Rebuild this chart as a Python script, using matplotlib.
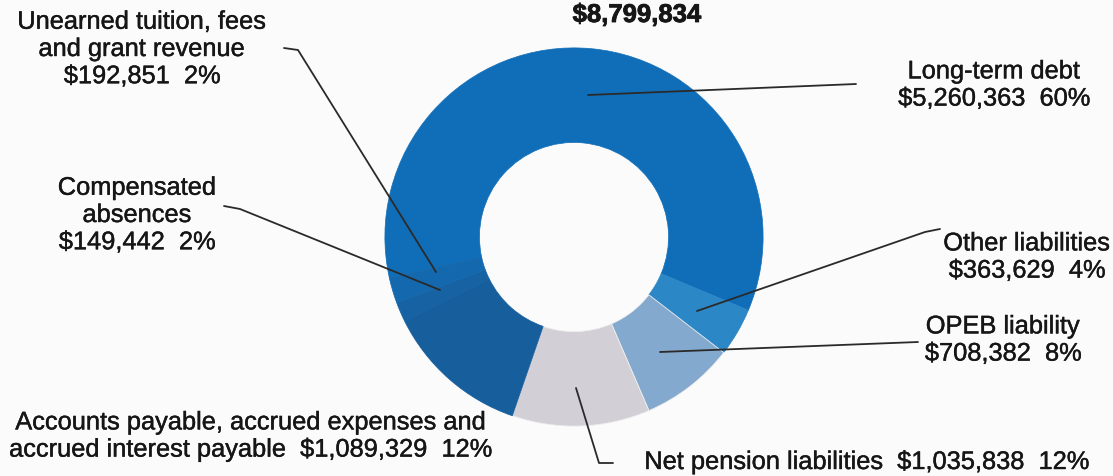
import matplotlib.pyplot as plt
import matplotlib.patheffects as pe

plt.rcParams["font.family"] = ["Liberation Sans", "DejaVu Sans"]

# Slices in drawing order (clockwise, starting with long-term debt)
categories = [
    "Long-term debt",
    "Other liabilities",
    "OPEB liability",
    "Net pension liabilities",
    "Accounts payable, accrued expenses and accrued interest payable",
    "Compensated absences",
    "Unearned tuition, fees and grant revenue",
]
amounts = [5260363, 363629, 708382, 1035838, 1089329, 149442, 192851]
percents = [60, 4, 8, 12, 12, 2, 2]
total = 8799834

colors = ["#106EB9", "#2B87C6", "#84A9CE", "#D3CFD7", "#175E9C", "#1662A3", "#1468AD"]

W, H = 1113, 476
fig = plt.figure(figsize=(W / 100, H / 100), dpi=100, facecolor="#FBFBFB")

# donut axes: centre (574, 237) px, outer radius 191 px
cx, cy, r = 574, 237, 191
ax = fig.add_axes([(cx - r) / W, (H - cy - r) / H, 2 * r / W, 2 * r / H])
wedges, _ = ax.pie(
    amounts,
    colors=colors,
    startangle=192.4,
    counterclock=False,
    radius=1,
    wedgeprops=dict(width=0.5, linewidth=0),
)
# hide antialias seams on the blue slices, faint light seams on the pale ones
for i, w in enumerate(wedges):
    if i in (2, 3):
        w.set_edgecolor("#EEEEEE")
        w.set_linewidth(0.6)
    else:
        w.set_edgecolor(colors[i])
        w.set_linewidth(0.5)
ax.set_xlim(-1.01, 1.01)
ax.set_ylim(-1.01, 1.01)
ax.set_aspect("equal")
ax.axis("off")

# overlay in pixel coordinates for labels and leader lines
ov = fig.add_axes([0, 0, 1, 1], facecolor="none")
ov.set_xlim(0, W)
ov.set_ylim(H, 0)
ov.axis("off")

ink = "#161616"
txt = dict(fontsize=18.3, color=ink, ha="center", va="center", linespacing=1.17,
           path_effects=[pe.withStroke(linewidth=0.3, foreground=ink)])


def money(v):
    return f"${v:,}"


ov.text(637, 15, money(total), fontsize=18.5, color=ink, ha="center",
        va="center", fontweight="bold",
        path_effects=[pe.withStroke(linewidth=0.6, foreground=ink)])

labels = [
    (994, 85, f"Long-term debt\n{money(amounts[0])}  {percents[0]}%"),
    (1027, 257, f"Other liabilities\n{money(amounts[1])}  {percents[1]}%"),
    (1003, 340, f"OPEB liability\n{money(amounts[2])}  {percents[2]}%"),
    (867, 462, f"Net pension liabilities  {money(amounts[3])}  {percents[3]}%"),
    (251, 436, f"Accounts payable, accrued expenses and\naccrued interest payable  "
               f"{money(amounts[4])}  {percents[4]}%"),
    (137, 215, f"Compensated\nabsences\n{money(amounts[5])}  {percents[5]}%"),
    (142, 49, f"Unearned tuition, fees\nand grant revenue\n{money(amounts[6])}  {percents[6]}%"),
]
for x, y, s in labels:
    ov.text(x, y, s, **txt)

leaders = [
    [(588, 95), (856, 84)],
    [(697, 311), (925, 232), (940, 229)],
    [(660, 352), (918, 342)],
    [(576, 388), (599, 463), (613, 463)],
    [(224, 206), (240, 209), (440, 290)],
    [(284, 48), (298, 50), (436, 272)],
]
for pts in leaders:
    xs, ys = zip(*pts)
    ov.plot(xs, ys, color="#2a2a2a", lw=1.3, solid_capstyle="round")

fig.savefig("out.png", dpi=100, facecolor=fig.get_facecolor())
